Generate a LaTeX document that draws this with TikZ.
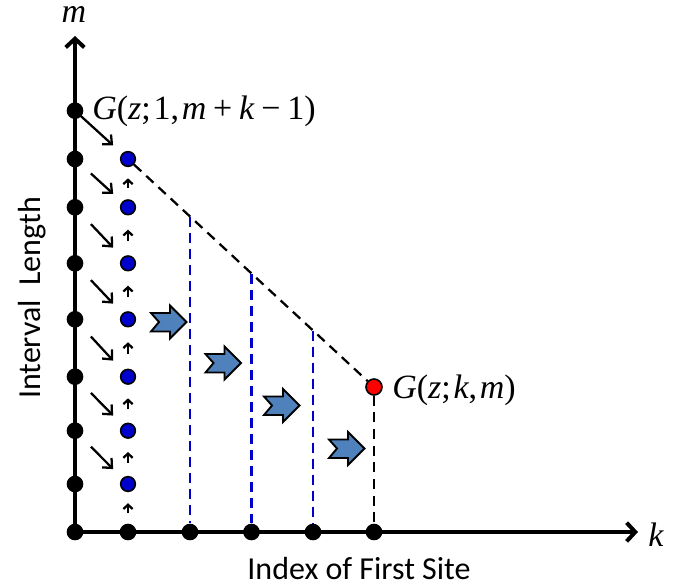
\documentclass[tikz,border=0pt]{standalone}
\usepackage{fontspec}
\setmainfont{Liberation Serif}
\newfontfamily\lblfont{Carlito}
\usetikzlibrary{arrows.meta,calc}
\definecolor{dotblue}{RGB}{0,0,205}
\definecolor{chevblue}{RGB}{79,129,189}
\newcommand\msp{\hspace{0.2em}}
\newcommand\tsp{\hspace{0.08em}}
\begin{document}
\begin{tikzpicture}[x=0.75pt,y=-0.75pt,
  axisdot/.style={circle,fill=black,inner sep=0pt,minimum size=12.5pt},
  bluedot/.style={circle,draw=black,line width=1.2pt,fill=dotblue,inner sep=0pt,minimum size=11pt},
  reddot/.style={circle,draw=black,line width=1.2pt,fill=red,inner sep=0pt,minimum size=12pt},
  axisline/.style={line width=3pt,-{Straight Barb[length=6.5pt,width=14pt,line width=3pt]}},
  diagarrow/.style={line width=1.7pt,-{Straight Barb[length=5.5pt,width=10pt]}},
  uparrow/.style={line width=1.7pt,-{Straight Barb[length=3.2pt,width=7pt]}},
  blackdash/.style={line width=1.7pt,dash pattern=on 7.5pt off 5pt},
  bluedash/.style={line width=1.9pt,dotblue,dash pattern=on 7.5pt off 4.5pt},
  chevstyle/.style={draw=black,line width=1.4pt,fill=chevblue,line join=miter},
  mathlbl/.style={inner sep=0pt,font=\fontsize{25.5}{30}\selectfont},
  sanslbl/.style={inner sep=0pt,font=\lblfont\fontsize{24}{28}\selectfont},
  chev/.pic={\path[chevstyle] (18,0) -- (1.5,-16.5) -- (1.5,-9) -- (-17.5,-9) -- (-9.5,0) -- (-17.5,9.5) -- (1.5,9.5) -- (1.5,16.5) -- cycle;}
]
\useasboundingbox (0,0) rectangle (688,587);

% axes
\coordinate (o) at (75,532);
\coordinate (ytip) at (75,36);
\coordinate (xtip) at (638,532);
\draw[axisline] (o) -- (ytip);
\draw[axisline] (o) -- (xtip);

% upper ends of the blue dashed lines (on the diagonal)
\coordinate (d2) at (190,217);
\coordinate (d3) at (251.5,273.8);
\coordinate (d4) at (313,330.6);

% dots on the m axis
\node[axisdot] (a0) at (75,110.7) {};
\node[axisdot] (a1) at (75,159) {};
\node[axisdot] (a2) at (75,207.3) {};
\node[axisdot] (a3) at (75,263.3) {};
\node[axisdot] (a4) at (75,319.3) {};
\node[axisdot] (a5) at (75,376.7) {};
\node[axisdot] (a6) at (75,430.7) {};
\node[axisdot] (a7) at (75,484) {};
% dots on the k axis
\node[axisdot] (c0) at (75,532) {};
\node[axisdot] (c1) at (128,532) {};
\node[axisdot] (c2) at (190,532) {};
\node[axisdot] (c3) at (251.5,532) {};
\node[axisdot] (c4) at (313,532) {};
\node[axisdot] (c5) at (374,532) {};

% blue dashed verticals
\draw[bluedash] (d2) -- (c2);
\draw[bluedash] (d3) -- (c3);
\draw[bluedash] (d4) -- (c4);

% blue dots
\node[bluedot] (b0) at (128,159) {};
\node[bluedot] (b1) at (128,207.3) {};
\node[bluedot] (b2) at (128,263.3) {};
\node[bluedot] (b3) at (128,319.3) {};
\node[bluedot] (b4) at (128,376.7) {};
\node[bluedot] (b5) at (128,430.7) {};
\node[bluedot] (b6) at (128,484) {};

% red dot
\node[reddot] (r) at (374,387) {};

% black dashed lines
\draw[blackdash] (b0) -- (r);
\draw[blackdash] (r) -- (c5);

% diagonal arrows
\draw[diagarrow] (a0.center) -- ($(a0)!0.72!(b0)$);
\draw[diagarrow] ($(a1)!0.3!(b1)$) -- ($(a1)!0.72!(b1)$);
\draw[diagarrow] ($(a2)!0.3!(b2)$) -- ($(a2)!0.72!(b2)$);
\draw[diagarrow] ($(a3)!0.3!(b3)$) -- ($(a3)!0.72!(b3)$);
\draw[diagarrow] ($(a4)!0.3!(b4)$) -- ($(a4)!0.72!(b4)$);
\draw[diagarrow] ($(a5)!0.3!(b5)$) -- ($(a5)!0.72!(b5)$);
\draw[diagarrow] ($(a6)!0.3!(b6)$) -- ($(a6)!0.72!(b6)$);

% small up arrows
\draw[uparrow] ($(b1)!0.4!(b0)$) -- ($(b1)!0.6!(b0)$);
\draw[uparrow] ($(b2)!0.4!(b1)$) -- ($(b2)!0.6!(b1)$);
\draw[uparrow] ($(b3)!0.4!(b2)$) -- ($(b3)!0.6!(b2)$);
\draw[uparrow] ($(b4)!0.4!(b3)$) -- ($(b4)!0.6!(b3)$);
\draw[uparrow] ($(b5)!0.4!(b4)$) -- ($(b5)!0.6!(b4)$);
\draw[uparrow] ($(b6)!0.4!(b5)$) -- ($(b6)!0.6!(b5)$);
\draw[uparrow] ($(c1)!0.4!(b6)$) -- ($(c1)!0.6!(b6)$);

% chevron arrows
\pic (ch1) at (168.5,322) {chev};
\pic (ch2) at (223,363) {chev};
\pic (ch3) at (281.5,405.5) {chev};
\pic (ch4) at (346.5,448.5) {chev};

% labels
\node[mathlbl,anchor=base] (mlbl) at (74,22) {\itshape m};
\node[mathlbl] (klbl) at (656,535) {\itshape k};
\node[mathlbl,anchor=west] (g1) at (92,111) {\textit{G}(\textit{z};\tsp1,\tsp\textit{m}\msp+\msp\textit{k}\msp−\msp1)};
\node[mathlbl,anchor=west] (g2) at (392,390) {\textit{G}(\textit{z};\tsp\textit{k},\tsp\textit{m})};
\node[sanslbl,rotate=90] (ylbl) at (32,298) {Interval\ \ Length};
\node[sanslbl] (xlbl) at (359,568) {Index of First Site};
\end{tikzpicture}
\end{document}
